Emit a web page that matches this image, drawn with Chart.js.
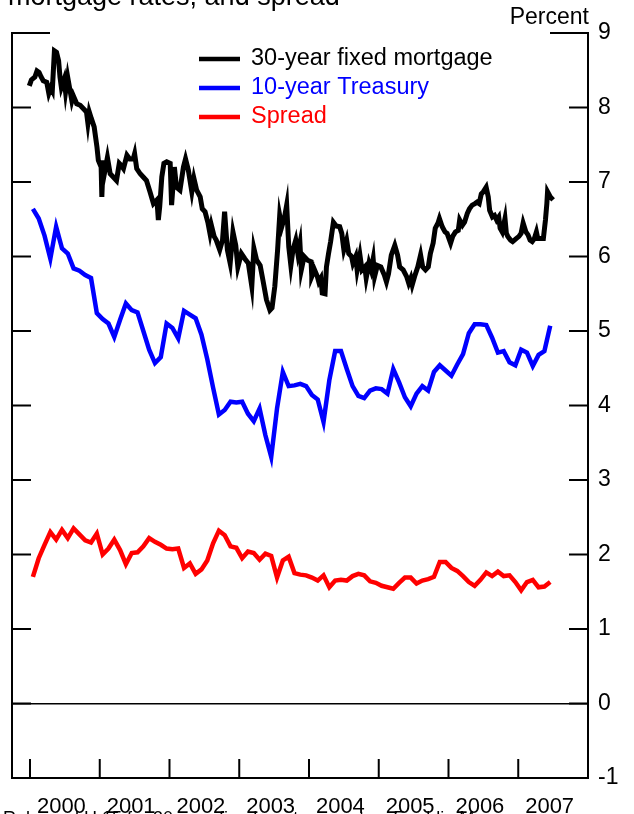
<!DOCTYPE html>
<html>
<head>
<meta charset="utf-8">
<script src="https://cdn.jsdelivr.net/npm/chart.js@4"></script>
<style>
  html, body { margin: 0; padding: 0; background: #fff; }
  canvas { display: block; }
</style>
</head>
<body>
<canvas id="chart" width="634" height="814"></canvas>
<script>
// 30-year fixed mortgage (weekly), dates as decimal years
const mortgageDates = [
  1999.99, 2000.02, 2000.07, 2000.10, 2000.13, 2000.16, 2000.19, 2000.24, 2000.27, 2000.30, 2000.32, 2000.35,
  2000.38, 2000.41, 2000.43, 2000.45, 2000.49, 2000.51, 2000.54, 2000.57, 2000.60, 2000.62, 2000.67, 2000.72,
  2000.76, 2000.81, 2000.83, 2000.85, 2000.88, 2000.92, 2000.96, 2000.98,
  2001.02, 2001.03, 2001.05, 2001.07, 2001.11, 2001.15, 2001.19, 2001.24, 2001.28, 2001.31, 2001.34, 2001.39,
  2001.43, 2001.48, 2001.50, 2001.53, 2001.58, 2001.62, 2001.67, 2001.72, 2001.77, 2001.82, 2001.84, 2001.86,
  2001.89, 2001.92, 2001.96,
  2002.01, 2002.03, 2002.07, 2002.10, 2002.15, 2002.20, 2002.23, 2002.27, 2002.32, 2002.35, 2002.39, 2002.44,
  2002.47, 2002.51, 2002.55, 2002.58, 2002.60, 2002.64, 2002.67, 2002.72, 2002.76, 2002.79, 2002.83, 2002.87,
  2002.91, 2002.95, 2002.98,
  2003.03, 2003.08, 2003.13, 2003.18, 2003.21, 2003.25, 2003.30, 2003.34, 2003.39, 2003.44, 2003.47, 2003.51,
  2003.55, 2003.58, 2003.61, 2003.65, 2003.68, 2003.71, 2003.74, 2003.77, 2003.81, 2003.84, 2003.87, 2003.89,
  2003.93, 2003.98,
  2004.03, 2004.04, 2004.08, 2004.12, 2004.14, 2004.17, 2004.19, 2004.23, 2004.25, 2004.28, 2004.31, 2004.35,
  2004.39, 2004.44, 2004.47, 2004.50, 2004.54, 2004.57, 2004.61, 2004.63, 2004.67, 2004.69, 2004.73, 2004.76,
  2004.80, 2004.82, 2004.86, 2004.89, 2004.92, 2004.94, 2004.98,
  2005.03, 2005.08, 2005.11, 2005.14, 2005.18, 2005.23, 2005.27, 2005.30, 2005.35, 2005.40, 2005.43, 2005.46,
  2005.48, 2005.52, 2005.56, 2005.60, 2005.63, 2005.67, 2005.71, 2005.74, 2005.78, 2005.81, 2005.85, 2005.87,
  2005.91, 2005.95, 2005.98,
  2006.03, 2006.06, 2006.10, 2006.14, 2006.16, 2006.20, 2006.23, 2006.27, 2006.30, 2006.34, 2006.38, 2006.41,
  2006.44, 2006.47, 2006.50, 2006.54, 2006.57, 2006.59, 2006.63, 2006.66, 2006.69, 2006.72, 2006.74, 2006.77,
  2006.81, 2006.83, 2006.85, 2006.89, 2006.92, 2006.97,
  2007.01, 2007.04, 2007.07, 2007.11, 2007.14, 2007.17, 2007.20, 2007.23, 2007.26, 2007.28, 2007.33, 2007.36,
  2007.39, 2007.41, 2007.42, 2007.46, 2007.50
];
const mortgageRates = [
  8.29, 8.37, 8.41, 8.49, 8.47, 8.41, 8.36, 8.34, 8.19, 8.27, 8.23, 8.76,
  8.74, 8.63, 8.41, 8.27, 8.38, 8.21, 8.41, 8.25, 8.09, 8.16, 8.05, 8.03,
  7.99, 7.94, 7.79, 7.94, 7.85, 7.74, 7.47, 7.29,
  7.20, 6.80, 7.29, 7.13, 7.33, 7.11, 7.07, 7.02, 7.25, 7.22, 7.18, 7.36,
  7.31, 7.31, 7.38, 7.18, 7.11, 7.07, 7.02, 6.87, 6.71, 6.76, 6.49, 6.67,
  7.07, 7.25, 7.27,
  7.25, 6.69, 7.20, 6.93, 6.89, 7.20, 7.31, 7.16, 6.87, 7.05, 6.89, 6.80,
  6.64, 6.60, 6.46, 6.31, 6.42, 6.27, 6.22, 6.09, 6.22, 6.60, 6.09, 5.91,
  6.33, 6.15, 5.86,
  6.04, 5.97, 5.91, 5.60, 6.11, 5.95, 5.88, 5.68, 5.42, 5.28, 5.31, 5.60,
  6.09, 6.55, 6.40, 6.53, 6.69, 6.13, 5.88, 6.09, 6.22, 6.04, 6.18, 5.82,
  6.00, 5.95,
  5.93, 5.73, 5.82, 5.73, 5.66, 5.71, 5.51, 5.50, 5.86, 6.04, 6.20, 6.46,
  6.41, 6.40, 6.31, 6.09, 6.22, 6.04, 6.00, 5.91, 6.00, 5.82, 6.02, 5.82,
  5.86, 5.71, 5.91, 5.82, 5.97, 5.73, 5.88,
  5.86, 5.75, 5.66, 5.77, 6.02, 6.15, 6.02, 5.86, 5.82, 5.73, 5.64, 5.71,
  5.62, 5.75, 5.86, 6.02, 5.86, 5.82, 5.86, 6.04, 6.18, 6.38, 6.45, 6.51,
  6.40, 6.33, 6.31,
  6.18, 6.27, 6.33, 6.35, 6.49, 6.42, 6.46, 6.58, 6.64, 6.69, 6.71, 6.73,
  6.71, 6.84, 6.87, 6.93, 6.80, 6.62, 6.53, 6.55, 6.49, 6.53, 6.38, 6.33,
  6.51, 6.31, 6.27, 6.22, 6.20, 6.24,
  6.27, 6.31, 6.45, 6.33, 6.29, 6.22, 6.20, 6.24, 6.33, 6.24, 6.24, 6.24,
  6.49, 6.71, 6.87, 6.80, 6.76
];

// monthly series, Jan 2000 .. Jun 2007
const monthlyStartYear = 2000;
const treasuryRates = [
  6.64, 6.51, 6.28, 5.97, 6.40, 6.11, 6.04, 5.84, 5.81, 5.75, 5.71, 5.24,
  5.16, 5.10, 4.92, 5.15, 5.37, 5.28, 5.25, 5.00, 4.75, 4.57, 4.65, 5.10,
  5.04, 4.90, 5.27, 5.22, 5.17, 4.95, 4.62, 4.24, 3.88, 3.94, 4.05, 4.04,
  4.05, 3.89, 3.79, 3.96, 3.60, 3.31, 3.96, 4.45, 4.26, 4.27, 4.29, 4.26,
  4.14, 4.08, 3.78, 4.34, 4.73, 4.73, 4.49, 4.26, 4.13, 4.10, 4.20, 4.23,
  4.22, 4.16, 4.49, 4.31, 4.11, 3.99, 4.16, 4.26, 4.20, 4.45, 4.54, 4.47,
  4.40, 4.55, 4.69, 4.97, 5.09, 5.09, 5.08, 4.91, 4.71, 4.73, 4.58, 4.54,
  4.75, 4.71, 4.53, 4.68, 4.73, 5.07
];
const spreadRates = [
  1.70, 1.95, 2.13, 2.30, 2.20, 2.33, 2.22, 2.35, 2.27, 2.19, 2.16, 2.28,
  2.00, 2.08, 2.20, 2.06, 1.87, 2.02, 2.03, 2.11, 2.22, 2.17, 2.13, 2.08,
  2.07, 2.08, 1.82, 1.88, 1.74, 1.80, 1.92, 2.15, 2.32, 2.26, 2.11, 2.09,
  1.95, 2.04, 2.02, 1.93, 2.01, 1.98, 1.69, 1.92, 1.97, 1.75, 1.73, 1.72,
  1.69, 1.65, 1.72, 1.56, 1.65, 1.66, 1.65, 1.71, 1.74, 1.72, 1.64, 1.62,
  1.58, 1.56, 1.54, 1.62, 1.69, 1.69, 1.61, 1.65, 1.67, 1.70, 1.90, 1.90,
  1.82, 1.78, 1.71, 1.63, 1.58, 1.66, 1.76, 1.71, 1.77, 1.71, 1.72, 1.63,
  1.52, 1.63, 1.66, 1.56, 1.57, 1.63
];

const yearLabels = ["2000", "2001", "2002", "2003", "2004", "2005", "2006", "2007"];
const seriesNames = ["30-year fixed mortgage", "10-year Treasury", "Spread"];
const seriesColors = ["#000000", "#0000ff", "#ff0000"];

const FONT = "'Liberation Sans', Arial, sans-serif";

function monthly(values) {
  return values.map((v, i) => ({ x: monthlyStartYear + (i + 0.5) / 12, y: v }));
}

const frame = {
  id: "frame",
  afterDraw(chart) {
    const { ctx, chartArea: a, scales: { x, y } } = chart;
    ctx.save();
    ctx.strokeStyle = "#000";
    ctx.lineWidth = 2;
    ctx.beginPath();
    ctx.moveTo(a.left + 38, a.top);
    ctx.lineTo(a.left, a.top);
    ctx.lineTo(a.left, a.bottom);
    ctx.lineTo(a.right, a.bottom);
    ctx.lineTo(a.right, a.top);
    ctx.lineTo(a.right - 38, a.top);
    y.ticks.forEach(t => {
      const py = y.getPixelForValue(t.value);
      ctx.moveTo(a.left, py); ctx.lineTo(a.left + 19, py);
      ctx.moveTo(a.right, py); ctx.lineTo(a.right - 19, py);
    });
    for (let yr = 2000; yr <= 2008; yr++) {
      const px = x.getPixelForValue(yr);
      ctx.moveTo(px, a.bottom); ctx.lineTo(px, a.bottom - 19);
    }
    ctx.stroke();

    // legend
    seriesNames.forEach((name, i) => {
      const ly = 59 + i * 29;
      ctx.strokeStyle = seriesColors[i];
      ctx.lineWidth = 4.5;
      ctx.beginPath();
      ctx.moveTo(199, ly); ctx.lineTo(240, ly);
      ctx.stroke();
      ctx.fillStyle = seriesColors[i];
      ctx.font = "23.5px " + FONT;
      ctx.textBaseline = "middle";
      ctx.textAlign = "left";
      ctx.fillText(name, 251, ly);
    });

    // title, unit and note
    ctx.fillStyle = "#000";
    ctx.textBaseline = "alphabetic";
    ctx.font = "27px " + FONT;
    ctx.fillText("mortgage rates, and spread", 8, 5);
    ctx.font = "23px " + FONT;
    ctx.textAlign = "right";
    ctx.fillText("Percent", 589, 24);
    ctx.textAlign = "left";
    ctx.font = "18px " + FONT;
    ctx.fillText("Released H.15 for 30-year fixed mortgage rates, Freddie Mac", 3, 824);
    ctx.restore();
  }
};

new Chart(document.getElementById("chart"), {
  type: "scatter",
  data: {
    datasets: [
      {
        label: seriesNames[0],
        data: mortgageDates.map((d, i) => ({ x: d, y: mortgageRates[i] })),
        borderColor: seriesColors[0],
        borderWidth: 5
      },
      {
        label: seriesNames[1],
        data: monthly(treasuryRates),
        borderColor: seriesColors[1],
        borderWidth: 4.5
      },
      {
        label: seriesNames[2],
        data: monthly(spreadRates),
        borderColor: seriesColors[2],
        borderWidth: 4.5
      }
    ].map(ds => Object.assign(ds, {
      showLine: true,
      pointRadius: 0,
      tension: 0,
      fill: false
    }))
  },
  options: {
    responsive: false,
    animation: false,
    devicePixelRatio: 1,
    layout: { padding: { left: 12, top: 33, right: 0, bottom: 0 } },
    plugins: { legend: { display: false }, tooltip: { enabled: false } },
    scales: {
      x: {
        type: "linear",
        min: 1999.742,
        max: 2008,
        grid: { display: false },
        border: { display: false },
        afterFit: s => { s.height = 36; },
        afterBuildTicks: s => { s.ticks = yearLabels.map((l, i) => ({ value: 2000 + i + 0.45 })); },
        ticks: {
          autoSkip: false,
          maxRotation: 0,
          padding: 8,
          color: "#000",
          font: { family: FONT, size: 22 },
          callback: (v, i) => yearLabels[i]
        }
      },
      y: {
        position: "right",
        min: -1,
        max: 9,
        afterFit: s => { s.width = 46; },
        border: { display: false },
        grid: {
          drawTicks: false,
          lineWidth: 1.5,
          color: c => (c.tick && c.tick.value === 0 ? "#000" : "rgba(0,0,0,0)")
        },
        ticks: {
          stepSize: 1,
          padding: 10,
          color: "#000",
          font: { family: FONT, size: 23 }
        }
      }
    }
  },
  plugins: [frame]
});
</script>
</body>
</html>
